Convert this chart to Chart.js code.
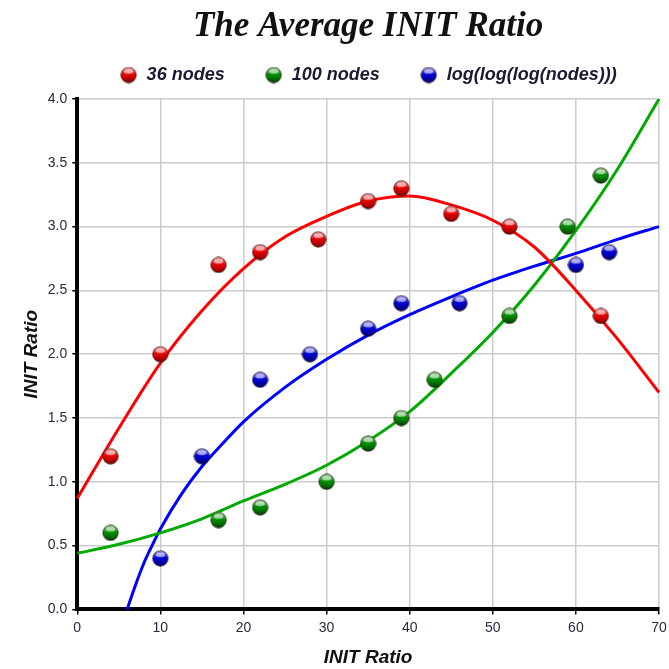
<!DOCTYPE html>
<html>
<head>
<meta charset="utf-8">
<script src="https://cdn.jsdelivr.net/npm/chart.js@4.4.0/dist/chart.umd.min.js"></script>
<style>
  html, body { margin: 0; padding: 0; background: #fff; }
  #wrap { width: 669px; height: 669px; }
</style>
</head>
<body>
<div id="wrap"><canvas id="c" width="669" height="669"></canvas></div>
<script>
// ---- data ----
const seriesNames = ['36 nodes', '100 nodes', 'log(log(log(nodes)))'];

const redX   = [4, 10, 17, 22, 29, 35, 39, 45, 52, 63];
const redY   = [1.2, 2.0, 2.7, 2.8, 2.9, 3.2, 3.3, 3.1, 3.0, 2.3];
const greenX = [4, 17, 22, 30, 35, 39, 43, 52, 59, 63];
const greenY = [0.6, 0.7, 0.8, 1.0, 1.3, 1.5, 1.8, 2.3, 3.0, 3.4];
const blueX  = [10, 15, 22, 28, 35, 39, 46, 60, 64];
const blueY  = [0.4, 1.2, 1.8, 2.0, 2.2, 2.4, 2.4, 2.7, 2.8];

// fitted curves
const redCurveX   = [0, 5, 10, 15, 20, 25, 30, 35, 40, 45, 50, 55, 60, 65, 70];
const redCurveY   = [0.87, 1.42, 1.93, 2.34, 2.67, 2.92, 3.08, 3.20, 3.24, 3.17, 3.05, 2.84, 2.50, 2.12, 1.70];
const greenCurveX = [0, 5, 10, 15, 20, 25, 30, 35, 40, 45, 50, 55, 60, 65, 70];
const greenCurveY = [0.44, 0.51, 0.60, 0.71, 0.85, 0.98, 1.13, 1.32, 1.55, 1.85, 2.17, 2.54, 2.97, 3.45, 4.00];
const blueCurveX  = [6, 7, 8, 9, 10, 12.5, 15, 17.5, 20, 25, 30, 35, 40, 45, 50, 55, 60, 65, 70];
const blueCurveY  = [0.0, 0.19, 0.36, 0.50, 0.63, 0.90, 1.12, 1.30, 1.47, 1.74, 1.96, 2.15, 2.31, 2.45, 2.58, 2.69, 2.79, 2.90, 3.00];

const xTicks = [0, 10, 20, 30, 40, 50, 60, 70];
const yTicks = [0, 0.5, 1.0, 1.5, 2.0, 2.5, 3.0, 3.5, 4.0];

const lineColors  = ['#ff0000', '#00aa00', '#0000ff'];
const pointBase   = ['#e00000', '#008a00', '#0000d0'];
const pointLight  = ['#ffb0b0', '#a8e0a8', '#b0b0ff'];
const pointDark   = ['#800000', '#004000', '#000070'];

function pts(xs, ys) { return xs.map((x, i) => ({ x: x, y: ys[i] })); }

function ballImage(i, size) {
  const c = document.createElement('canvas');
  c.width = size; c.height = size;
  const g = c.getContext('2d');
  const r = size / 2 - 0.8;
  const cx = size / 2, cy = size / 2;
  const grd = g.createLinearGradient(0, cy - r, 0, cy + r);
  grd.addColorStop(0, pointLight[i]);
  grd.addColorStop(0.45, pointBase[i]);
  grd.addColorStop(0.55, pointBase[i]);
  grd.addColorStop(1, pointDark[i]);
  g.beginPath(); g.arc(cx, cy, r, 0, Math.PI * 2);
  g.fillStyle = grd; g.fill();
  g.lineWidth = 1; g.strokeStyle = 'rgba(40,20,20,0.75)'; g.stroke();
  g.beginPath();
  g.ellipse(cx, cy - r * 0.45, r * 0.6, r * 0.3, 0, 0, Math.PI * 2);
  g.fillStyle = 'rgba(255,255,255,0.55)'; g.fill();
  return c;
}

const balls = [0, 1, 2].map(i => ballImage(i, 17));

const scatterSets = [
  pts(redX, redY), pts(greenX, greenY), pts(blueX, blueY)
].map((d, i) => ({
  type: 'scatter',
  label: seriesNames[i],
  data: d,
  showLine: false,
  pointStyle: balls[i],
  pointRadius: 8,
  backgroundColor: pointBase[i],
  borderColor: pointDark[i],
  isPoints: true
}));

const curveSets = [
  pts(redCurveX, redCurveY), pts(greenCurveX, greenCurveY), pts(blueCurveX, blueCurveY)
].map((d, i) => ({
  type: 'line',
  label: seriesNames[i] + ' fit',
  data: d,
  borderColor: lineColors[i],
  borderWidth: 3,
  pointRadius: 0,
  fill: false,
  cubicInterpolationMode: 'monotone',
  isPoints: false
}));

const tickFont = { family: '"Liberation Sans", Arial, sans-serif', size: 14 };
const axisTitleFont = { family: '"Liberation Sans", Arial, sans-serif', size: 19, weight: 'bold', style: 'italic' };

new Chart(document.getElementById('c'), {
  type: 'scatter',
  data: { datasets: scatterSets.concat(curveSets) },
  options: {
    responsive: false,
    animation: false,
    layout: { padding: { left: 12, right: 0, top: 4, bottom: 0 } },
    plugins: {
      tooltip: { enabled: false },
      title: {
        display: true,
        text: 'The Average INIT Ratio',
        fullSize: false,
        color: '#111',
        font: { family: '"Liberation Serif", "Times New Roman", serif', size: 35, weight: 'bold', style: 'italic' },
        padding: { top: 2, bottom: -22 }
      },
      legend: {
        display: true,
        fullSize: false,
        labels: {
          usePointStyle: true,
          color: '#1a1a33',
          font: { family: '"Liberation Sans", Arial, sans-serif', size: 18, weight: 'bold', style: 'italic' },
          padding: 40,
          filter: (item, data) => data.datasets[item.datasetIndex].isPoints
        }
      }
    },
    scales: {
      gap: {
        type: 'linear', position: 'top', display: true,
        ticks: { display: false }, grid: { display: false, drawTicks: false }, border: { display: false },
        afterFit: s => { s.height = 5; }
      },
      x: {
        type: 'linear',
        min: 0, max: 70,
        afterBuildTicks: s => { s.ticks = xTicks.map(v => ({ value: v })); },
        afterFit: s => { s.paddingRight = 10; },
        ticks: { color: '#2a2a40', font: tickFont, padding: 5 },
        grid: { color: '#cccccc', lineWidth: 1.5, tickLength: 5, tickColor: '#000' },
        border: { color: '#000', width: 4 },
        title: {
          display: true, text: 'INIT Ratio', color: '#111', font: axisTitleFont,
          padding: { top: 5, bottom: 0 }
        }
      },
      y: {
        type: 'linear',
        min: 0, max: 4,
        afterBuildTicks: s => { s.ticks = yTicks.map(v => ({ value: v })); },
        ticks: { color: '#2a2a40', font: tickFont, padding: 5,
                 callback: v => Number(v).toFixed(1) },
        grid: { color: '#cccccc', lineWidth: 1.5, tickLength: 5, tickColor: '#000' },
        border: { color: '#000', width: 4 },
        title: {
          display: true, text: 'INIT Ratio', color: '#111', font: axisTitleFont,
          padding: { top: 8, bottom: 0 }
        }
      }
    }
  }
});
</script>
</body>
</html>
